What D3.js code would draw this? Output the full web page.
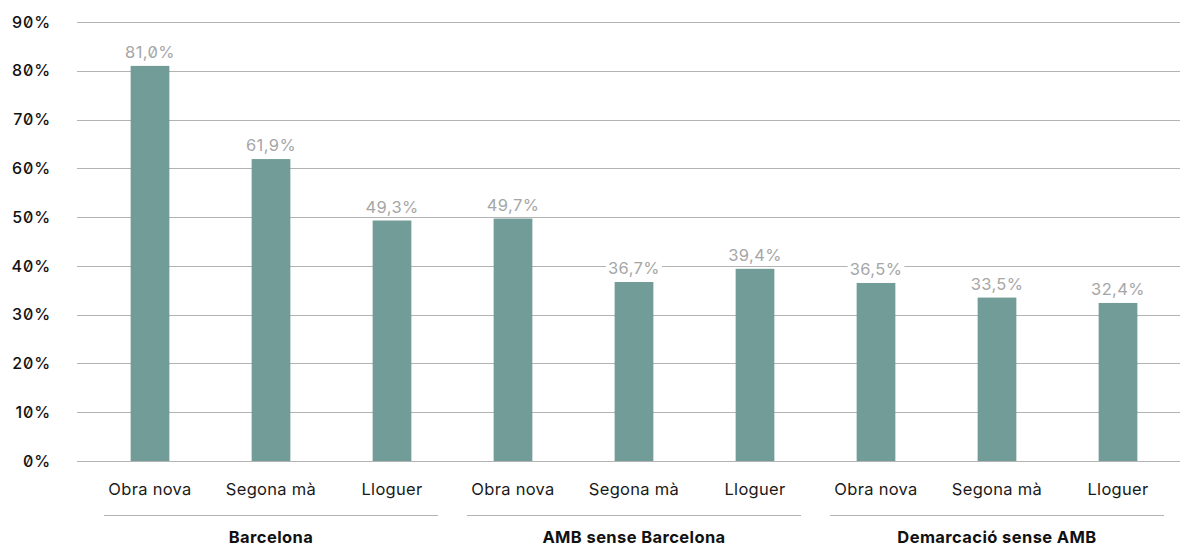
<!DOCTYPE html>
<html>
<head>
<meta charset="utf-8">
<script src="https://cdn.jsdelivr.net/npm/d3@7"></script>
<style>
  html, body { margin: 0; padding: 0; background: #fff; }
  svg { display: block; font-family: Inter, "Noto Sans", sans-serif; font-feature-settings: "zero" 1; }
</style>
</head>
<body>
<svg id="chart" width="1180" height="547"></svg>
<script>
// Share of housing by market segment and territory (%)
const groups = ["Barcelona", "AMB sense Barcelona", "Demarcació sense AMB"];
const segments = ["Obra nova", "Segona mà", "Lloguer"];
const barcelonaValues = [81.0, 61.9, 49.3];
const ambValues = [49.7, 36.7, 39.4];
const demarcacioValues = [36.5, 33.5, 32.4];
const yTicks = [0, 10, 20, 30, 40, 50, 60, 70, 80, 90];

const seriesByGroup = [barcelonaValues, ambValues, demarcacioValues];
const rows = [];
groups.forEach((g, gi) => {
  segments.forEach((s, si) => {
    rows.push({ key: g + "|" + s, group: g, segment: s, value: seriesByGroup[gi][si] });
  });
});

const svg = d3.select("#chart");
const gridLeft = 77, gridRight = 1180;
const plotLeft = 89.5, plotRight = 1178.5;

const x = d3.scaleBand()
  .domain(rows.map(d => d.key))
  .range([plotLeft, plotRight])
  .paddingInner(0.68)
  .paddingOuter(0.34);

const y = d3.scaleLinear().domain([0, 90]).range([461, 22]);

const fmt = v => d3.format(".1f")(v).replace(".", ",") + "%";

// Horizontal gridlines
svg.append("g")
  .selectAll("line")
  .data(yTicks)
  .join("line")
  .attr("x1", gridLeft).attr("x2", gridRight)
  .attr("y1", d => Math.round(y(d)) + 0.5)
  .attr("y2", d => Math.round(y(d)) + 0.5)
  .attr("stroke", "#b3b3b3")
  .attr("stroke-width", 1);

// Y axis labels
const yAxis = svg.append("g")
  .attr("transform", "translate(51,0)")
  .call(d3.axisLeft(y).tickValues(yTicks).tickSize(0).tickPadding(0).tickFormat(d => d + "%"));
yAxis.select(".domain").remove();
yAxis.selectAll("text")
  .attr("font-family", "Inter, 'Noto Sans', sans-serif")
  .attr("font-size", 16)
  .attr("font-weight", 500)
  .attr("letter-spacing", 0.9)
  .attr("fill", "#111")
  .style("font-feature-settings", '"zero" 1');

// Bars
svg.append("g")
  .selectAll("rect")
  .data(rows)
  .join("rect")
  .attr("x", d => x(d.key))
  .attr("y", d => y(d.value))
  .attr("width", x.bandwidth())
  .attr("height", d => y(0) - y(d.value))
  .attr("fill", "#719c97");

// Value labels with white backing that interrupts gridlines
const labels = svg.append("g")
  .selectAll("g")
  .data(rows)
  .join("g")
  .attr("transform", d => `translate(${x(d.key) + x.bandwidth() / 2},${y(d.value) - 8})`);

labels.append("rect")
  .attr("x", -30).attr("y", -15)
  .attr("width", 60).attr("height", 17)
  .attr("fill", "#fff");

labels.append("text")
  .attr("text-anchor", "middle")
  .attr("font-size", 16.5)
  .attr("letter-spacing", 0.4)
  .attr("fill", "#a6a6a6")
  .text(d => fmt(d.value))
  .each(function() {
    const w = this.getComputedTextLength();
    d3.select(this.parentNode).select("rect").attr("x", -w / 2 - 2).attr("width", w + 4);
  });

// Category labels
svg.append("g")
  .selectAll("text")
  .data(rows)
  .join("text")
  .attr("x", d => x(d.key) + x.bandwidth() / 2)
  .attr("y", 495)
  .attr("text-anchor", "middle")
  .attr("font-size", 16.5)
  .attr("letter-spacing", 0.3)
  .attr("fill", "#1a1a1a")
  .text(d => d.segment);

// Group separators and labels
const groupExtent = groups.map(g => {
  const keys = rows.filter(r => r.group === g).map(r => r.key);
  const start = x(keys[0]) + x.bandwidth() / 2;
  const end = x(keys[keys.length - 1]) + x.bandwidth() / 2;
  return { group: g, x1: start - 46, x2: end + 46, cx: (start + end) / 2 };
});

svg.append("g")
  .selectAll("line")
  .data(groupExtent)
  .join("line")
  .attr("x1", d => d.x1).attr("x2", d => d.x2)
  .attr("y1", 515.5).attr("y2", 515.5)
  .attr("stroke", "#b3b3b3")
  .attr("stroke-width", 1);

svg.append("g")
  .selectAll("text")
  .data(groupExtent)
  .join("text")
  .attr("x", d => d.cx)
  .attr("y", 543)
  .attr("text-anchor", "middle")
  .attr("font-size", 16.5)
  .attr("font-weight", 700)
  .attr("letter-spacing", 0.4)
  .attr("fill", "#111")
  .text(d => d.group);
</script>
</body>
</html>
